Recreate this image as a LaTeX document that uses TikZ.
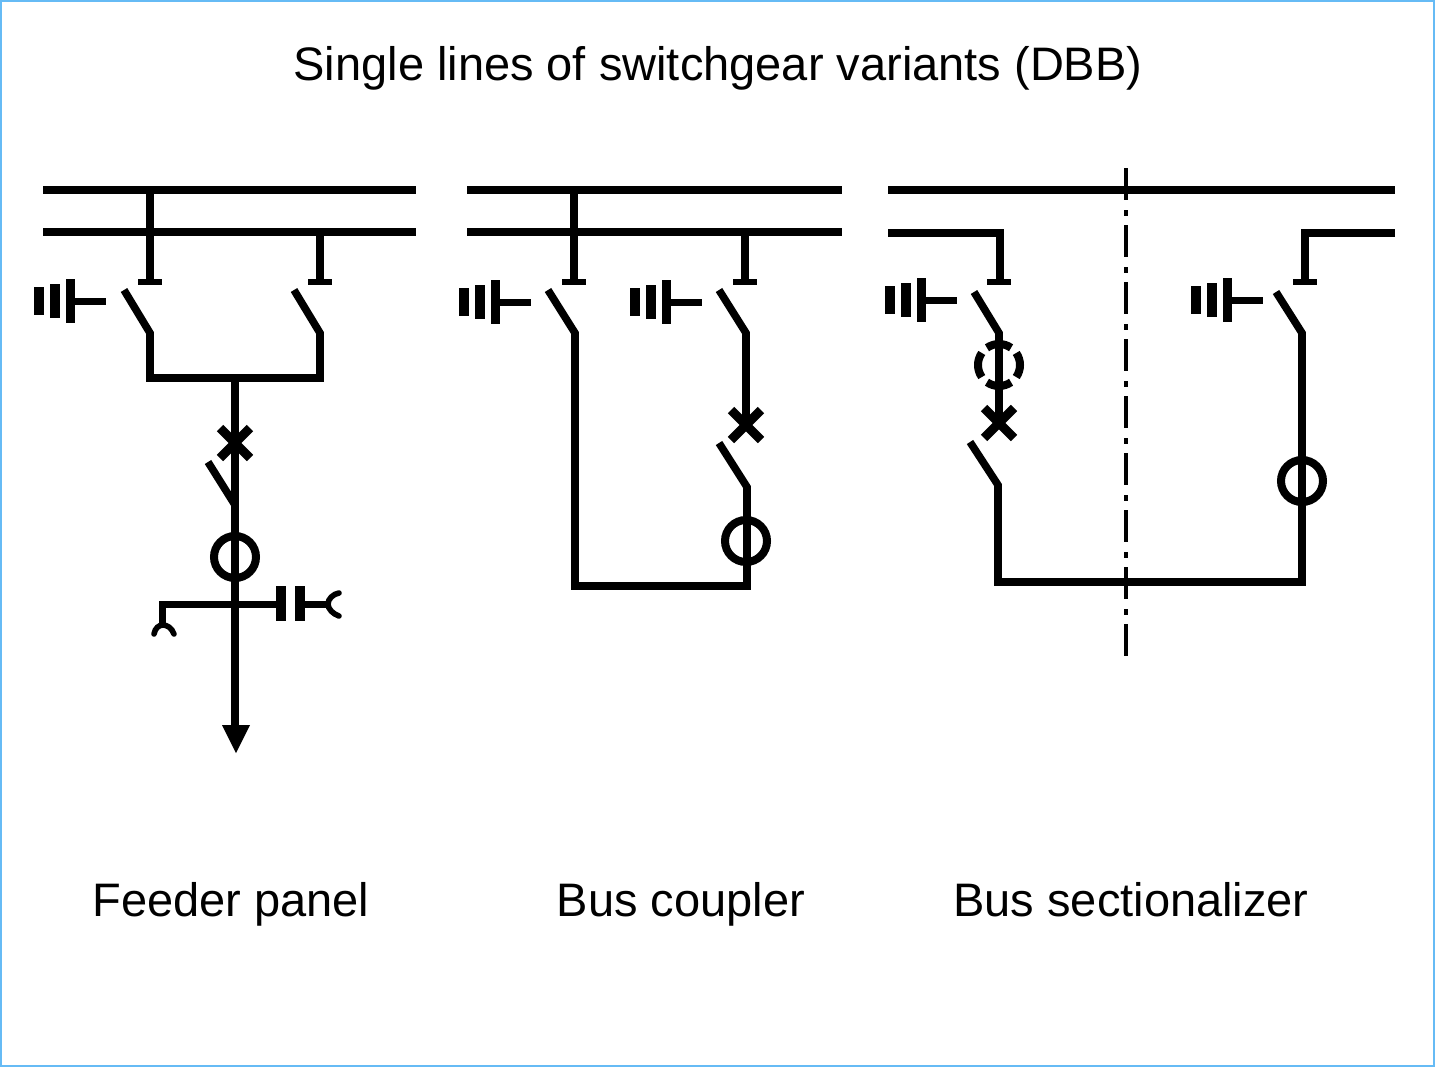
\documentclass[tikz,border=0pt]{standalone}
\usepackage{fontspec}
\setmainfont{Liberation Sans}
\definecolor{framecol}{HTML}{66BBF5}
\tikzset{
  busbar/.style={line width=3.8pt},
  wire/.style={line width=3.8pt,miter limit=10},
  pics/earthsw/.style={code={
    \draw[line width=5pt] (-31,-14)--(-31,14);
    \draw[line width=5pt] (-15,-17)--(-15,17);
    \draw[line width=4.5pt] (0,-22)--(0,22);
    \draw[line width=3.5pt] (0,0)--(36,0);
  }},
  pics/isobar/.style={code={\draw[line width=3pt] (-12,0)--(12,0);}},
  pics/breaker/.style={code={\draw[line width=4.5pt] (-15,-15)--(15,15) (-15,15)--(15,-15);}},
  pics/ctring/.style={code={\draw[line width=4pt] (0,0) circle[radius=21];}}
}
\begin{document}
\begin{tikzpicture}[x=0.5pt,y=-0.5pt,lbl/.style={font={\fontsize{23.5}{28}\selectfont},inner sep=0pt,anchor=base}]
  \useasboundingbox (0,0) rectangle (1435,1067);
  \draw[framecol,line width=1pt] (1,1) rectangle (1434,1066);

  \node[lbl] (title) at (718,80) {Single lines of switchgear variants (DBB)};
  \node[lbl] (feederlbl) at (231,916) {Feeder panel};
  \node[lbl] (couplerlbl) at (681,916) {Bus coupler};
  \node[lbl] (sectionlbl) at (1131,916) {Bus sectionalizer};

  % feeder panel
  \draw[busbar] (43,190) -- (416,190);
  \draw[busbar] (43,232) -- (416,232);
  \draw[wire] (150,190) -- (150,282);
  \draw[wire] (320,232) -- (320,282);
  \pic at (150,282) {isobar};
  \pic at (320,282) {isobar};
  \pic at (70,301) {earthsw};
  \draw[wire] (124,290) -- (150,333) -- (150,378) -- (320,378) -- (320,333) -- (294,290);
  \draw[wire] (235,378) -- (235,725);
  \pic at (235,443) {breaker};
  \draw[wire] (208,462) -- (235,505);
  \pic at (235,557) {ctring};
  \draw[line width=3.5pt] (277,604) -- (162,604) -- (162,626);
  \draw[line width=2.8pt,line cap=round] (154,634) .. controls (155,628) and (159,625) .. (163,625) .. controls (167,625) and (172,628) .. (174,634);
  \draw[line width=5pt] (281,586) -- (281,621);
  \draw[line width=5pt] (300,586) -- (300,621);
  \draw[line width=3.5pt] (300,604) -- (328,604);
  \draw[line width=2.8pt,line cap=round] (339,593) .. controls (333,594) and (328,599) .. (328,604) .. controls (328,609) and (333,614) .. (339,616);
  \fill (222,725) -- (250,725) -- (236,753) -- cycle;

  % bus coupler
  \draw[busbar] (467,190) -- (842,190);
  \draw[busbar] (467,232) -- (842,232);
  \draw[wire] (574,190) -- (574,282);
  \draw[wire] (745,232) -- (745,282);
  \pic at (574,282) {isobar};
  \pic at (745,282) {isobar};
  \pic at (495,302) {earthsw};
  \pic at (666,302) {earthsw};
  \draw[wire] (548,290) -- (575,333) -- (575,586) -- (747,586) -- (747,487) -- (719,443);
  \draw[wire] (719,290) -- (746,333) -- (746,425);
  \pic at (746,425) {breaker};
  \pic at (746,541) {ctring};

  % bus sectionalizer
  \draw[busbar] (888,190) -- (1395,190);
  \draw[busbar] (888,233) -- (1000,233) -- (1000,282);
  \draw[busbar] (1395,233) -- (1305,233) -- (1305,282);
  \pic at (999,282) {isobar};
  \pic at (1305,282) {isobar};
  \pic at (921,300) {earthsw};
  \pic at (1227,300) {earthsw};
  \draw[wire] (974,292) -- (999,333) -- (999,424);
  \foreach \a in {-35,55,145,235}
    \draw[line width=4pt] ([shift={(\a:21)}]999,365) arc[start angle=\a,delta angle=70,radius=21];
  \pic at (999,423) {breaker};
  \draw[wire] (970,442) -- (998,485) -- (998,582) -- (1302,582) -- (1302,333) -- (1276,292);
  \pic at (1302,481) {ctring};
  \draw[line width=2.2pt,dash pattern=on 16pt off 5pt on 3pt off 4.5pt] (1126,168) -- (1126,658);
\end{tikzpicture}
\end{document}
